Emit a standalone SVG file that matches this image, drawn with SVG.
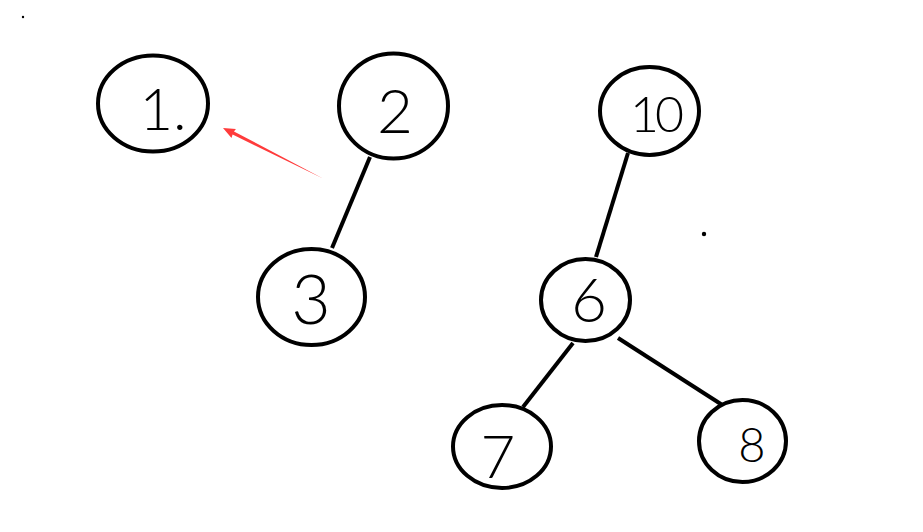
<svg xmlns="http://www.w3.org/2000/svg" width="923" height="532" viewBox="0 0 923 532">
<style>
.node ellipse{fill:#fff;stroke:#000;stroke-width:4}
.node text{font-family:"Lato","Open Sans","Liberation Sans",sans-serif;font-weight:300;fill:#000;text-anchor:middle}
.edge{stroke:#000;stroke-width:4;stroke-linecap:butt}
</style>
<rect width="923" height="532" fill="#fff"/>
<g id="connectors">
<line class="edge" x1="370" y1="157" x2="332" y2="248"/>
<line class="edge" x1="628" y1="153" x2="596" y2="257"/>
<line class="edge" x1="573" y1="343" x2="523" y2="407"/>
<line class="edge" x1="618" y1="338" x2="727" y2="408"/>
<polygon id="red-arrow" fill="#ff3b3b" points="323,178.5 234,131.5 235.9,128.9 223,128 231.5,137.9 232.6,134.6"/>
</g>
<g id="node-1" class="node"><ellipse cx="153" cy="103.5" rx="55" ry="48"/><text x="163" y="130" font-size="58">1.</text></g>
<g id="node-2" class="node"><ellipse cx="393.5" cy="106" rx="54.5" ry="52.5"/><text x="395" y="133" font-size="62">2</text></g>
<g id="node-3" class="node"><ellipse cx="311.5" cy="297" rx="53.5" ry="48"/><text x="311" y="324" font-size="68">3</text></g>
<g id="node-10" class="node"><ellipse cx="649.5" cy="111" rx="49.5" ry="44"/><text x="655" y="132" font-size="50" letter-spacing="-4">10</text></g>
<g id="node-6" class="node"><ellipse cx="585.5" cy="300" rx="44.5" ry="41"/><text x="589" y="322" font-size="62">6</text></g>
<g id="node-7" class="node"><ellipse cx="502" cy="446.5" rx="49" ry="41.5"/><text x="498" y="478" font-size="60">7</text></g>
<g id="node-8" class="node"><ellipse cx="742.5" cy="441" rx="43.5" ry="41"/><text x="752" y="462" font-size="47">8</text></g>
<circle cx="23" cy="17" r="1.2" fill="#000"/>
<circle cx="704" cy="234" r="2.2" fill="#000"/>
</svg>
